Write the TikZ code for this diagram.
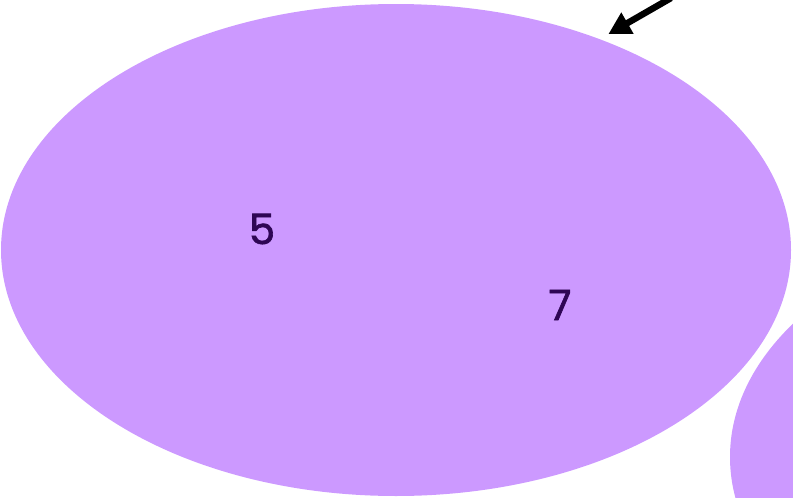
\documentclass[tikz,border=0pt]{standalone}
\usepackage{fontspec}
\setmainfont{Poppins}[FakeBold=1.5]
\usetikzlibrary{arrows.meta,shapes.geometric}
\definecolor{setfill}{HTML}{CC99FF}
\definecolor{setlabel}{HTML}{2E0654}

\begin{document}
\begin{tikzpicture}[
  x=1pt, y=-1pt,
  set/.style={ellipse, fill=setfill, draw=none, inner sep=0pt,
              minimum width=790pt, minimum height=492pt},
  num/.style={text=setlabel, font=\fontsize{42}{48}\selectfont, inner sep=0pt},
  arr/.style={-{Triangle[length=22pt, width=23pt]}, line width=6.5pt,
              shorten >=10pt}]
\clip (0,0) rectangle (793,498);
\node[set] (bigset) at (396,250) {};
\node[set] (nextset) at (1125,457) {};
\node[num] (five) at (262,229) {5};
\node[num] (seven) at (560,305) {7};
\coordinate (tail) at (671,-2);
\draw[arr] (tail) -- (bigset.46.7);
\end{tikzpicture}
\end{document}
